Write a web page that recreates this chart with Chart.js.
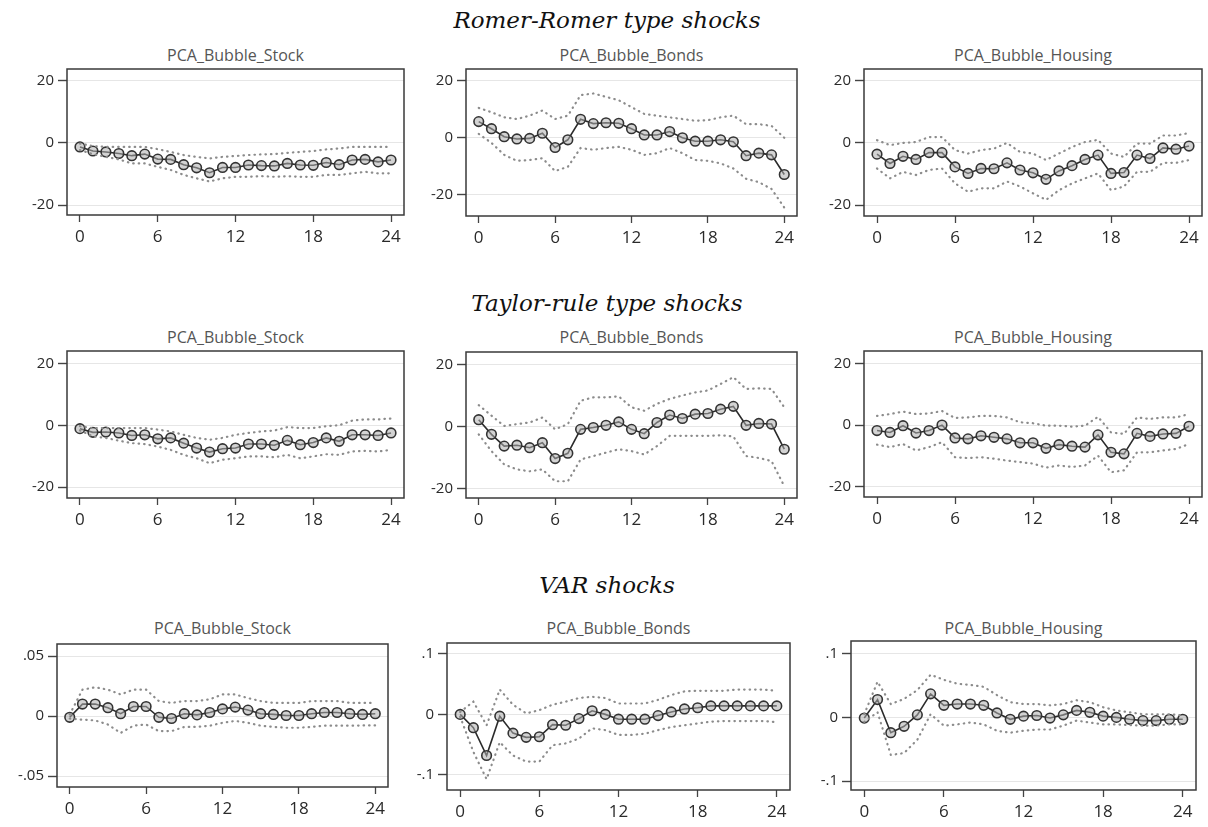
<!DOCTYPE html>
<html>
<head>
<meta charset="utf-8">
<script src="https://cdn.jsdelivr.net/npm/chart.js@4.4.1/dist/chart.umd.min.js"></script>
<style>
  body { margin: 0; background: #fff; width: 1208px; height: 827px; position: relative; overflow: hidden; }
  .sec { position: absolute; left: 0; width: 1214px; text-align: center; font-family: "DejaVu Serif", serif; font-style: italic; font-size: 23px; line-height: 26px; color: #111; }
  .ptitle { position: absolute; text-align: center; font-family: "Open Sans", sans-serif; font-size: 16px; line-height: 20px; color: #555; }
  .panel { position: absolute; }
</style>
</head>
<body>
<div class="sec" style="top:7px">Romer-Romer type shocks</div>
<div class="sec" style="top:290px">Taylor-rule type shocks</div>
<div class="sec" style="top:572px">VAR shocks</div>

<script>
// horizons (months) and axis ticks
const horizons = [0, 1, 2, 3, 4, 5, 6, 7, 8, 9, 10, 11, 12, 13, 14, 15, 16, 17, 18, 19, 20, 21, 22, 23, 24];
const xTicks = [0, 6, 12, 18, 24];
const yTicksLevel = [-20, 0, 20];
const yTicksVarStock = [-0.05, 0, 0.05];
const yTicksVar = [-0.1, 0, 0.1];

// Romer-Romer type shocks
const rrStockIrf = [-1.3, -2.6, -2.9, -3.4, -4.1, -3.6, -5.2, -5.3, -7.0, -8.0, -9.6, -7.9, -7.9, -7.1, -7.3, -7.4, -6.6, -7.1, -7.2, -6.3, -7.0, -5.5, -5.3, -6.1, -5.5];
const rrStockUp = [-0.2, -1.0, -1.3, -1.3, -1.3, -1.3, -2.0, -2.9, -3.9, -4.5, -5.0, -4.5, -4.2, -3.9, -3.7, -3.6, -3.2, -2.9, -2.6, -2.1, -1.8, -1.3, -1.3, -1.3, -1.3];
const rrStockLo = [-2.3, -3.6, -4.5, -5.3, -6.6, -6.6, -7.7, -8.7, -10.3, -11.4, -12.4, -11.4, -10.9, -10.9, -10.7, -10.9, -10.7, -10.9, -10.9, -10.3, -10.3, -9.8, -9.3, -9.8, -9.8];

const rrBondsIrf = [5.7, 3.2, 0.4, -0.4, -0.2, 1.6, -3.4, -0.7, 6.5, 5.0, 5.3, 5.1, 3.2, 1.0, 1.0, 2.2, 0, -1.2, -1.2, -0.7, -1.4, -6.3, -5.4, -6.0, -12.9];
const rrBondsUp = [10.5, 9.0, 7.2, 6.6, 7.8, 9.6, 6.6, 7.8, 15.0, 15.6, 14.4, 13.2, 10.8, 8.4, 7.8, 7.2, 6.6, 6.0, 6.2, 7.2, 7.8, 4.8, 4.8, 4.2, 0];
const rrBondsLo = [1.4, -1.8, -6.0, -8.1, -7.8, -7.2, -11.7, -10.2, -3.6, -4.2, -3.6, -3.2, -4.2, -6.0, -5.4, -3.6, -5.4, -7.8, -8.1, -9.0, -10.8, -14.4, -15.6, -18.0, -24.5];

const rrHouseIrf = [-3.6, -6.6, -4.3, -5.3, -3.1, -3.1, -7.7, -9.8, -8.2, -8.3, -6.4, -8.7, -9.6, -11.7, -9.0, -7.3, -5.3, -3.9, -9.8, -9.5, -3.9, -5.0, -1.6, -2.0, -1.0];
const rrHouseUp = [0.9, -0.7, 0, 0.3, 1.9, 1.9, -2.3, -3.4, -2.3, -1.8, 0, -2.9, -3.4, -5.5, -3.4, -1.3, 0.3, 1.0, -3.4, -4.5, -0.2, -0.2, 2.4, 2.4, 3.2];
const rrHouseLo = [-8.2, -11.4, -9.3, -10.3, -8.7, -8.2, -13.0, -15.7, -14.6, -14.6, -12.4, -14.0, -16.2, -18.3, -15.2, -13.0, -11.4, -9.8, -15.2, -14.0, -9.3, -9.3, -6.4, -6.4, -5.5];

// Taylor-rule type shocks
const trStockIrf = [-1.0, -2.2, -2.1, -2.4, -3.2, -3.0, -4.3, -4.0, -5.7, -7.3, -8.6, -7.5, -7.3, -6.0, -6.0, -6.4, -4.8, -6.2, -5.5, -4.0, -5.1, -3.0, -3.0, -3.2, -2.4];
const trStockUp = [-0.2, -0.8, -0.8, -0.8, -0.8, -0.8, -1.3, -1.9, -3.0, -4.0, -4.6, -4.0, -3.0, -2.4, -1.9, -1.6, -0.5, -0.8, -0.8, -0.2, 0.1, 1.6, 2.0, 2.0, 2.3];
const trStockLo = [-1.6, -3.5, -4.0, -4.9, -5.7, -6.0, -6.8, -7.9, -9.5, -10.6, -12.2, -11.1, -10.6, -10.0, -10.0, -10.3, -9.5, -10.6, -10.0, -9.3, -9.5, -8.4, -8.2, -8.4, -7.9];

const trBondsIrf = [2.3, -2.4, -6.2, -5.9, -6.7, -5.1, -10.2, -8.5, -0.8, -0.2, 0.5, 1.6, -0.8, -2.2, 1.4, 3.8, 2.7, 4.1, 4.3, 5.7, 6.6, 0.5, 1.1, 0.9, -7.2];
const trBondsUp = [7.0, 3.6, 0.3, 0.9, 1.4, 3.0, -0.8, 0.9, 8.4, 9.5, 9.5, 9.8, 6.3, 5.2, 7.4, 9.0, 10.1, 11.1, 11.7, 13.8, 16.0, 12.2, 12.4, 12.2, 6.3];
const trBondsLo = [-2.4, -7.8, -12.1, -13.7, -14.3, -13.7, -17.5, -17.5, -10.5, -9.4, -8.3, -7.2, -7.8, -8.9, -6.2, -2.9, -2.9, -2.9, -2.9, -2.7, -3.1, -9.4, -10.0, -11.0, -19.1];

const trHouseIrf = [-1.8, -2.4, -0.2, -2.6, -1.8, 0, -4.2, -4.5, -3.5, -4.0, -4.5, -5.8, -5.8, -7.6, -6.4, -6.9, -7.2, -3.2, -8.9, -9.4, -2.7, -3.7, -2.9, -2.7, -0.4];
const trHouseUp = [3.0, 3.6, 4.4, 3.6, 3.8, 4.6, 2.3, 2.5, 3.0, 3.0, 2.5, 0.9, 0.6, -0.2, -0.2, -0.5, -0.2, 2.7, -2.4, -2.9, 2.5, 2.0, 2.5, 2.5, 3.6];
const trHouseLo = [-6.4, -7.2, -6.2, -8.3, -7.2, -5.6, -10.5, -10.8, -10.5, -11.0, -11.6, -12.1, -12.6, -13.9, -13.2, -13.7, -13.2, -10.0, -15.4, -14.8, -8.9, -8.9, -8.3, -7.8, -6.2];

// VAR shocks
const varStockIrf = [-0.001, 0.010, 0.010, 0.007, 0.002, 0.008, 0.008, -0.001, -0.002, 0.002, 0.001, 0.003, 0.006, 0.0075, 0.005, 0.002, 0.0014, 0.0005, 0.0005, 0.002, 0.003, 0.003, 0.002, 0.0014, 0.002];
const varStockUp = [0.0014, 0.022, 0.024, 0.022, 0.018, 0.022, 0.022, 0.0125, 0.011, 0.0125, 0.0125, 0.014, 0.018, 0.018, 0.015, 0.0125, 0.011, 0.011, 0.011, 0.0125, 0.0125, 0.0125, 0.011, 0.011, 0.011];
const varStockLo = [-0.002, -0.003, -0.0036, -0.007, -0.014, -0.008, -0.007, -0.0125, -0.0125, -0.009, -0.009, -0.008, -0.0056, -0.004, -0.0056, -0.008, -0.009, -0.0097, -0.0097, -0.009, -0.008, -0.008, -0.008, -0.0078, -0.0078];

const varBondsIrf = [0, -0.022, -0.068, -0.003, -0.031, -0.038, -0.037, -0.017, -0.018, -0.007, 0.006, 0, -0.008, -0.008, -0.008, -0.002, 0.004, 0.009, 0.011, 0.014, 0.014, 0.014, 0.014, 0.014, 0.014];
const varBondsUp = [0.004, 0.021, -0.018, 0.041, 0.016, 0.0017, 0.007, 0.016, 0.021, 0.027, 0.029, 0.027, 0.018, 0.018, 0.018, 0.024, 0.032, 0.038, 0.039, 0.039, 0.039, 0.041, 0.041, 0.041, 0.039];
const varBondsLo = [-0.004, -0.062, -0.107, -0.046, -0.068, -0.078, -0.078, -0.051, -0.048, -0.040, -0.023, -0.026, -0.034, -0.034, -0.032, -0.026, -0.021, -0.018, -0.015, -0.012, -0.011, -0.011, -0.011, -0.011, -0.013];

const varHouseIrf = [-0.001, 0.028, -0.024, -0.014, 0.004, 0.037, 0.019, 0.021, 0.021, 0.019, 0.007, -0.003, 0.002, 0.003, -0.001, 0.004, 0.011, 0.008, 0.002, 0, -0.003, -0.005, -0.005, -0.003, -0.003];
const varHouseUp = [0.005, 0.056, 0.021, 0.029, 0.043, 0.067, 0.059, 0.053, 0.051, 0.048, 0.035, 0.024, 0.021, 0.021, 0.019, 0.021, 0.027, 0.024, 0.016, 0.011, 0.008, 0.005, 0.005, 0.005, 0.003];
const varHouseLo = [-0.007, 0.008, -0.059, -0.056, -0.035, 0.005, -0.013, -0.011, -0.008, -0.011, -0.021, -0.024, -0.021, -0.019, -0.019, -0.013, -0.005, -0.008, -0.011, -0.011, -0.012, -0.013, -0.013, -0.011, -0.011];

// layout of the panels: plot box (left, top, right, bottom) and y range
const Y_W = 50, X_H = 40, PAD_T = 12, PAD_R = 12;

const panels = [
  { title: 'PCA_Bubble_Stock',   box: [67, 68, 404, 215],   yr: [-23.2, 23.8], yt: yTicksLevel, irf: rrStockIrf, up: rrStockUp, lo: rrStockLo, ty: 45 },
  { title: 'PCA_Bubble_Bonds',   box: [466, 68, 797, 216],  yr: [-27.5, 24.2], yt: yTicksLevel, irf: rrBondsIrf, up: rrBondsUp, lo: rrBondsLo, ty: 45 },
  { title: 'PCA_Bubble_Housing', box: [864, 68, 1202, 216], yr: [-23.5, 23.8], yt: yTicksLevel, irf: rrHouseIrf, up: rrHouseUp, lo: rrHouseLo, ty: 45 },
  { title: 'PCA_Bubble_Stock',   box: [67, 350, 404, 498],  yr: [-23.5, 24.2], yt: yTicksLevel, irf: trStockIrf, up: trStockUp, lo: trStockLo, ty: 327 },
  { title: 'PCA_Bubble_Bonds',   box: [466, 351, 797, 498], yr: [-22.9, 24.1], yt: yTicksLevel, irf: trBondsIrf, up: trBondsUp, lo: trBondsLo, ty: 327 },
  { title: 'PCA_Bubble_Housing', box: [864, 350, 1202, 497], yr: [-23.5, 24.2], yt: yTicksLevel, irf: trHouseIrf, up: trHouseUp, lo: trHouseLo, ty: 327 },
  { title: 'PCA_Bubble_Stock',   box: [57, 643, 388, 787],  yr: [-0.059, 0.06], yt: yTicksVarStock, irf: varStockIrf, up: varStockUp, lo: varStockLo, ty: 618 },
  { title: 'PCA_Bubble_Bonds',   box: [447, 642, 790, 790], yr: [-0.125, 0.118], yt: yTicksVar, irf: varBondsIrf, up: varBondsUp, lo: varBondsLo, ty: 618 },
  { title: 'PCA_Bubble_Housing', box: [851, 640, 1196, 790], yr: [-0.114, 0.12], yt: yTicksVar, irf: varHouseIrf, up: varHouseUp, lo: varHouseLo, ty: 618 }
];

// frame round the plot region, as in Stata graphs
const framePlugin = {
  id: 'frame',
  afterDraw(chart) {
    const a = chart.chartArea, ctx = chart.ctx;
    ctx.save();
    ctx.setLineDash([]);
    ctx.strokeStyle = '#3a3a3a';
    ctx.lineWidth = 1.5;
    ctx.strokeRect(a.left, a.top, a.right - a.left, a.bottom - a.top);
    ctx.restore();
  }
};

function fmtTick(v) {
  return String(v).replace(/^(-?)0\./, '$1.');
}

function pts(vals) {
  return horizons.map((h, i) => ({ x: h, y: vals[i] }));
}

function band(vals) {
  return {
    data: pts(vals),
    borderColor: '#8c8c8c',
    borderWidth: 2.2,
    borderDash: [0.5, 5],
    borderCapStyle: 'round',
    pointRadius: 0,
    fill: false,
    tension: 0
  };
}

panels.forEach(p => {
  const [l, t, r, b] = p.box;
  const W = (r - l) + Y_W + PAD_R;
  const H = (b - t) + PAD_T + X_H;

  const title = document.createElement('div');
  title.className = 'ptitle';
  title.style.left = l + 'px';
  title.style.width = (r - l) + 'px';
  title.style.top = p.ty + 'px';
  title.textContent = p.title;
  document.body.appendChild(title);

  const wrap = document.createElement('div');
  wrap.className = 'panel';
  wrap.style.left = (l - Y_W) + 'px';
  wrap.style.top = (t - PAD_T) + 'px';
  const canvas = document.createElement('canvas');
  canvas.width = W;
  canvas.height = H;
  canvas.style.width = W + 'px';
  canvas.style.height = H + 'px';
  wrap.appendChild(canvas);
  document.body.appendChild(wrap);

  new Chart(canvas.getContext('2d'), {
    type: 'line',
    data: {
      datasets: [
        band(p.up),
        band(p.lo),
        {
          data: pts(p.irf),
          borderColor: '#2b2b2b',
          borderWidth: 1.6,
          pointRadius: 4.8,
          pointBorderWidth: 1.6,
          pointBorderColor: '#333',
          pointBackgroundColor: 'rgba(175,175,175,0.55)',
          fill: false,
          tension: 0
        }
      ]
    },
    options: {
      responsive: false,
      animation: false,
      layout: { padding: { top: PAD_T, right: PAD_R, left: 0, bottom: 0 } },
      plugins: { legend: { display: false }, tooltip: { enabled: false } },
      scales: {
        x: {
          type: 'linear',
          min: -1,
          max: 25,
          afterBuildTicks: s => { s.ticks = xTicks.map(v => ({ value: v })); },
          afterFit: s => { s.height = X_H; },
          grid: { drawOnChartArea: false, drawTicks: true, tickLength: 7, tickColor: '#444', tickWidth: 1.3 },
          border: { display: false },
          ticks: { color: '#2a2a2a', font: { family: 'Open Sans', size: 17 }, padding: 5, maxRotation: 0 }
        },
        y: {
          min: p.yr[0],
          max: p.yr[1],
          afterBuildTicks: s => { s.ticks = p.yt.map(v => ({ value: v })); },
          afterFit: s => { s.width = Y_W; },
          grid: { color: '#e6e6e6', lineWidth: 1, drawTicks: true, tickLength: 9, tickColor: '#444', tickWidth: 1.4 },
          border: { display: false },
          ticks: { color: '#2a2a2a', font: { family: 'Open Sans', size: 15 }, padding: 4, callback: v => fmtTick(v) }
        }
      }
    },
    plugins: [framePlugin]
  });
});
</script>
</body>
</html>
